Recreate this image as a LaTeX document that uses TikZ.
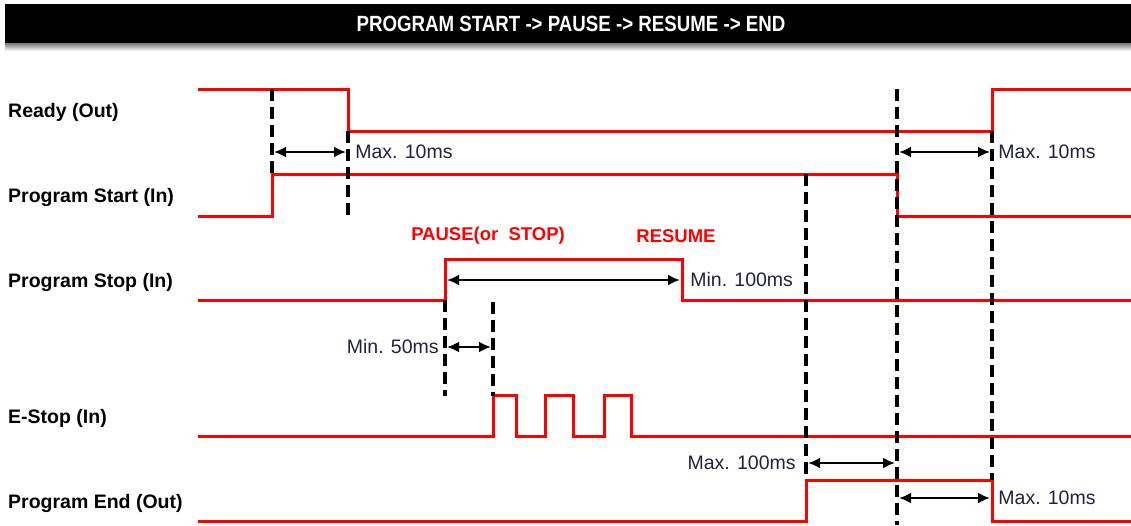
\documentclass[tikz,border=0pt]{standalone}
\usepackage{fontspec}
\setmainfont{Liberation Sans}
\newfontfamily\headfont[FakeStretch=0.85]{Liberation Sans}
\usetikzlibrary{arrows.meta}
\definecolor{sigred}{rgb}{1,0,0}
\definecolor{dimtext}{rgb}{0.13,0.13,0.25}

\tikzset{
    signal/.style={color=sigred, line width=3pt},
    guide/.style={color=black, line width=3.2pt, dash pattern=on 12pt off 6pt},
    span/.style={color=black, line width=2.8pt, {Latex[length=12pt,width=11pt]}-{Latex[length=12pt,width=11pt]}},
    spanlabel/.style={text=dimtext, font=\fontsize{19.5}{22}\selectfont, inner sep=3pt},
    siglabel/.style={anchor=west, font=\fontsize{19.5}{22}\selectfont\bfseries, inner sep=0pt},
    eventlabel/.style={text=sigred, font=\fontsize{18.5}{20}\selectfont\bfseries, inner sep=0pt}
}

\begin{document}
\begin{tikzpicture}[x=1pt, y=-1pt]
    \useasboundingbox (0,0) rectangle (1131,525);

    % draw header bar
    \shade[top color=black!60, bottom color=white] (5,42) rectangle (1131,51);
    \fill[black] (5,4) rectangle (1131,43);
    \node[text=white, font=\headfont\fontsize{22}{24}\selectfont\bfseries] (title) at (571,24) {PROGRAM START -> PAUSE -> RESUME -> END};

    % draw signal names
    \node[siglabel] (ready) at (8,112) {Ready (Out)};
    \node[siglabel] (start) at (8,197) {Program Start (In)};
    \node[siglabel] (stop) at (8,282) {Program Stop (In)};
    \node[siglabel] (estop) at (8,418) {E-Stop (In)};
    \node[siglabel] (pend) at (8,503) {Program End (Out)};

    % draw signals
    \draw[signal] (198,89) -- (348,89) -- (348,131) -- (992,131) -- (992,89) -- (1131,89);
    \draw[signal] (198,216) -- (272,216) -- (272,174) -- (897,174) -- (897,216) -- (1131,216);
    \draw[signal] (198,300) -- (445,300) -- (445,259) -- (682,259) -- (682,300) -- (1131,300);
    \draw[signal] (198,436) -- (493,436) -- (493,395) -- (516,395) -- (516,436) -- (545,436)
        -- (545,395) -- (573,395) -- (573,436) -- (604,436) -- (604,395) -- (631,395) -- (631,436) -- (1131,436);
    \draw[signal] (198,521) -- (806,521) -- (806,480) -- (992,480) -- (992,521) -- (1131,521);

    % draw vertical guides
    \draw[guide] (272,89) -- (272,174);
    \draw[guide] (348,131) -- (348,217);
    \draw[guide] (445,300) -- (445,396);
    \draw[guide] (493,302) -- (493,396);
    \draw[guide] (806,174) -- (806,480);
    \draw[guide] (897,89) -- (897,525);
    \draw[guide] (992,131) -- (992,480);

    % draw event names
    \node[eventlabel] (pause) at (488,236) {PAUSE(or~ STOP)};
    \node[eventlabel] (resume) at (676,236) {RESUME};

    % draw timing spans
    \coordinate (rdyA) at (274,152);
    \coordinate (rdyB) at (346,152);
    \coordinate (offA) at (899,152);
    \coordinate (offB) at (990,152);
    \coordinate (holdA) at (447,280);
    \coordinate (holdB) at (680,280);
    \coordinate (waitA) at (447,347);
    \coordinate (waitB) at (491,347);
    \coordinate (doneA) at (808,463);
    \coordinate (doneB) at (895,463);
    \coordinate (clrA) at (899,498);
    \coordinate (clrB) at (990,498);

    \draw[span] (rdyA) -- (rdyB) node[spanlabel, anchor=west, xshift=5pt] (rdylabel) {Max. 10ms};
    \draw[span] (offA) -- (offB) node[spanlabel, anchor=west, xshift=4pt] (offlabel) {Max. 10ms};
    \draw[span] (holdA) -- (holdB) node[spanlabel, anchor=west, xshift=6pt] (holdlabel) {Min. 100ms};
    \draw[span] (waitB) -- (waitA) node[spanlabel, anchor=east, xshift=-4pt] (waitlabel) {Min. 50ms};
    \draw[span] (doneB) -- (doneA) node[spanlabel, anchor=east, xshift=-8pt] (donelabel) {Max. 100ms};
    \draw[span] (clrA) -- (clrB) node[spanlabel, anchor=west, xshift=4pt] (clrlabel) {Max. 10ms};
\end{tikzpicture}
\end{document}
